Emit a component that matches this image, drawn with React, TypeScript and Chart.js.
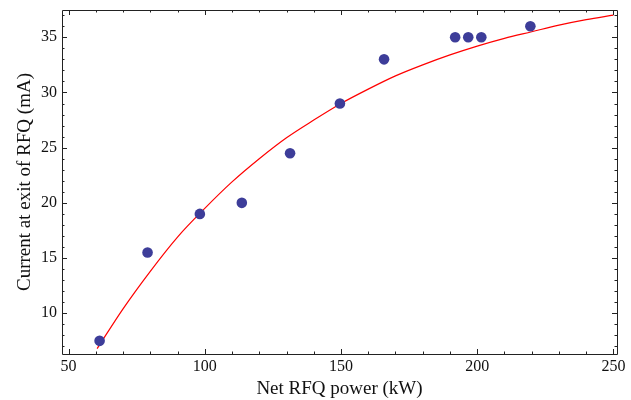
import React, { useEffect, useRef } from "react";
import { Chart, registerables } from "chart.js";

Chart.register(...registerables);

// Measured points
const powerKW = [61.4, 79.0, 98.2, 113.6, 131.3, 149.6, 165.8, 191.9, 196.7, 201.5, 219.5];
const currentMA = [7.5, 15.5, 19.0, 20.0, 24.5, 29.0, 33.0, 35.0, 35.0, 35.0, 36.0];

// Fit curve
const fitX = [60.5, 70, 80, 90, 100, 110, 120, 130, 140, 150, 160, 170, 180, 190, 200, 210, 220, 230, 240, 250];
const fitY = [6.8, 10.4, 13.8, 16.9, 19.5, 21.9, 24.0, 25.9, 27.5, 29.0, 30.3, 31.5, 32.5, 33.4, 34.2, 34.9, 35.5, 36.1, 36.6, 37.0];

// Ticks
const xMajorTicks = [50, 100, 150, 200, 250];
const yMajorTicks = [10, 15, 20, 25, 30, 35];
const xMinorStep = 10;
const yMinorStep = 1;

const X_MIN = 47.6;
const X_MAX = 251.3;
const Y_MIN = 6.31;
const Y_MAX = 37.47;

const framePlugin = {
  id: "frameTicks",
  afterDatasetsDraw(chart: any) {
    const { ctx, chartArea } = chart;
    const xs = chart.scales.x;
    const ys = chart.scales.y;
    const { left, right, top, bottom } = chartArea;
    ctx.save();
    ctx.strokeStyle = "#222";
    ctx.lineWidth = 1;
    ctx.beginPath();
    ctx.rect(Math.round(left) + 0.5, Math.round(top) + 0.5, Math.round(right - left), Math.round(bottom - top));
    ctx.stroke();
    ctx.beginPath();
    for (let v = Math.ceil(X_MIN / xMinorStep) * xMinorStep; v <= X_MAX; v += xMinorStep) {
      const major = xMajorTicks.includes(v);
      const len = major ? 5 : 2.5;
      const px = Math.round(xs.getPixelForValue(v)) + 0.5;
      ctx.moveTo(px, bottom);
      ctx.lineTo(px, bottom - len);
      ctx.moveTo(px, top);
      ctx.lineTo(px, top + len);
    }
    for (let v = Math.ceil(Y_MIN / yMinorStep) * yMinorStep; v <= Y_MAX; v += yMinorStep) {
      const major = yMajorTicks.includes(v);
      const len = major ? 5 : 2.5;
      const py = Math.round(ys.getPixelForValue(v)) + 0.5;
      ctx.moveTo(left, py);
      ctx.lineTo(left + len, py);
      ctx.moveTo(right, py);
      ctx.lineTo(right - len, py);
    }
    ctx.stroke();
    ctx.restore();
  },
};

export default function App() {
  const ref = useRef<HTMLCanvasElement | null>(null);
  useEffect(() => {
    if (!ref.current) return;
    const serif = "'Liberation Serif', 'DejaVu Serif', serif";
    const chart = new Chart(ref.current, {
      type: "scatter",
      data: {
        datasets: [
          {
            label: "fit",
            data: fitX.map((x, i) => ({ x, y: fitY[i] })),
            showLine: true,
            borderColor: "#ff0000",
            borderWidth: 1.2,
            pointRadius: 0,
            tension: 0.4,
            cubicInterpolationMode: "monotone",
            order: 2,
          },
          {
            label: "data",
            data: powerKW.map((x, i) => ({ x, y: currentMA[i] })),
            backgroundColor: "#3d3d99",
            borderColor: "#3d3d99",
            pointRadius: 5.3,
            pointBorderWidth: 0,
            order: 1,
          },
        ],
      },
      options: {
        animation: false,
        responsive: false,
        maintainAspectRatio: false,
        layout: { padding: { left: 0, right: 14, top: 10, bottom: 0 } },
        plugins: { legend: { display: false }, tooltip: { enabled: false } },
        scales: {
          x: {
            type: "linear",
            min: X_MIN,
            max: X_MAX,
            grid: { display: false, drawTicks: false },
            border: { display: false },
            afterBuildTicks: (s: any) => {
              s.ticks = xMajorTicks.map((v) => ({ value: v }));
            },
            afterFit: (s: any) => {
              s.height = 46;
              s.paddingLeft = 0;
              s.paddingRight = 0;
            },
            ticks: {
              color: "#111",
              font: { family: serif, size: 16 },
              padding: 3,
              maxRotation: 0,
              callback: (v: any) => String(v),
            },
            title: {
              display: true,
              text: "Net RFQ power (kW)",
              color: "#111",
              font: { family: serif, size: 19 },
              padding: { top: 0, bottom: 0 },
            },
          },
          y: {
            type: "linear",
            min: Y_MIN,
            max: Y_MAX,
            grid: { display: false, drawTicks: false },
            border: { display: false },
            afterBuildTicks: (s: any) => {
              s.ticks = yMajorTicks.map((v) => ({ value: v }));
            },
            afterFit: (s: any) => {
              s.width = 62;
              s.paddingTop = 0;
              s.paddingBottom = 0;
            },
            ticks: {
              color: "#111",
              font: { family: serif, size: 16 },
              padding: 5,
              callback: (v: any) => String(v),
            },
            title: {
              display: true,
              text: "Current at exit of RFQ (mA)",
              color: "#111",
              font: { family: serif, size: 19 },
              padding: { top: 14, bottom: 0 },
            },
          },
        },
      },
      plugins: [framePlugin],
    });
    return () => chart.destroy();
  }, []);
  return (
    <div style={{ position: "fixed", left: 0, top: 0, width: 631, height: 400, background: "#fff" }}>
      <canvas ref={ref} width={631} height={400} style={{ width: 631, height: 400 }} />
    </div>
  );
}
